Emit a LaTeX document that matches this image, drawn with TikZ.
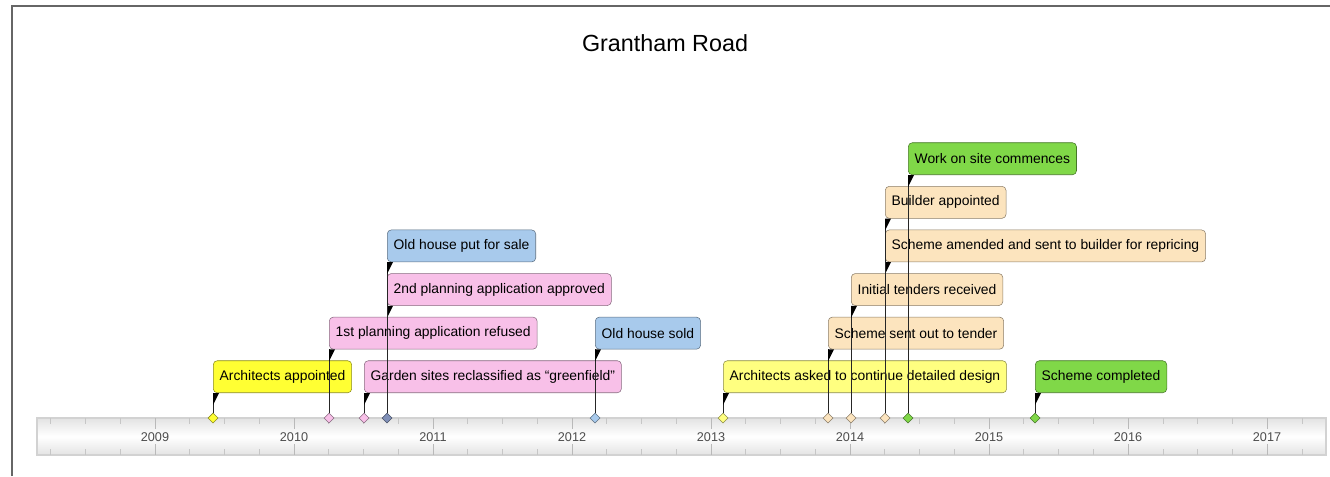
\documentclass[tikz,border=0pt]{standalone}
\usepackage{fontspec}
\setmainfont{Liberation Sans}
\usetikzlibrary{shapes.geometric}

\definecolor{evyellow}{HTML}{FFFF33}
\definecolor{evpale}{HTML}{FFFF80}
\definecolor{evpink}{HTML}{F8C0E8}
\definecolor{evblue}{HTML}{A8CAEC}
\definecolor{evwheat}{HTML}{FCE4BE}
\definecolor{evgreen}{HTML}{80D848}
\definecolor{evslate}{HTML}{8090B8}

\tikzset{
  event/.style={draw=#1!55!black, fill=#1, rounded corners=3pt, anchor=south west,
    inner xsep=4.8pt, minimum height=24pt, text=black,
    font=\fontsize{10.4}{12}\selectfont},
  pin/.style={diamond, draw=#1!55!black, fill=#1, inner sep=0pt, minimum size=7.5pt},
  stem/.style={black!85, line width=0.75pt},
  year/.style={text=gray!60!black, font=\fontsize{9.5}{11}\selectfont}
}

\begin{document}
\begin{tikzpicture}[x=0.75pt,y=-0.75pt]
    \useasboundingbox (0,0) rectangle (1330,476);
    \draw[gray!80!black, line width=1pt] (12,476) -- (12,6) -- (1330,6);
    \node (title) at (665,43) {\fontsize{17.5}{21}\selectfont Grantham Road};

    % time bar
    \shade[top color=gray!22, bottom color=gray!22, middle color=white] (37,418) rectangle (1326,455);
    \draw[gray!35, line width=1.5pt] (37,418) rectangle (1326,455);
    \foreach \q in {-3,...,33} {
        \pgfmathsetmacro{\x}{155+\q*34.75}
        \pgfmathtruncatemacro{\m}{mod(\q+12,4)}
        \ifnum\m=0
            \draw[gray!55] (\x,418) -- (\x,429);
            \draw[gray!55] (\x,444) -- (\x,455);
        \else
            \draw[gray!45] (\x,418) -- (\x,424);
            \draw[gray!45] (\x,449) -- (\x,455);
        \fi
    }
    \foreach \y in {2009,...,2017}
        \node[year] (y\y) at ({155+(\y-2009)*139},437) {\y};

    % diamonds on the bar
    \foreach \d/\x/\col in {d1/213/evyellow, d2/329/evpink, d3/364/evpink, d4/387/evslate,
        d5/595/evblue, d6/723/evpale, d7/828/evwheat, d8/851/evwheat, d9/885/evwheat,
        d10/908/evgreen, d11/1035/evgreen}
        \node[pin=\col] (\d) at (\x,418) {};

    % event boxes
    \foreach \name/\x/\row/\col/\txt in {
        appointed/213/1/evyellow/{Architects appointed},
        refused/329/2/evpink/{1st planning application refused},
        garden/364/1/evpink/{Garden sites reclassified as “greenfield”},
        approved/387/3/evpink/{2nd planning application approved},
        forsale/387/4/evblue/{Old house put for sale},
        sold/595/2/evblue/{Old house sold},
        detailed/723/1/evpale/{Architects asked to continue detailed design},
        tender/828/2/evwheat/{Scheme sent out to tender},
        received/851/3/evwheat/{Initial tenders received},
        amended/885/4/evwheat/{Scheme amended and sent to builder for repricing},
        builder/885/5/evwheat/{Builder appointed},
        commences/908/6/evgreen/{Work on site commences},
        completed/1035/1/evgreen/{Scheme completed}}
        \node[event=\col] (\name) at (\x,{393-(\row-1)*43.6}) {\txt};

    % stems and flags
    \foreach \d/\name in {d1/appointed, d2/refused, d3/garden, d4/approved, d4/forsale,
        d5/sold, d6/detailed, d7/tender, d8/received, d9/amended, d9/builder,
        d10/commences, d11/completed} {
        \draw[stem] (\d.north) -- (\name.south west);
        \fill[black] (\name.south west) -- ++(6,0) -- ++(-6,12) -- cycle;
    }
\end{tikzpicture}
\end{document}
